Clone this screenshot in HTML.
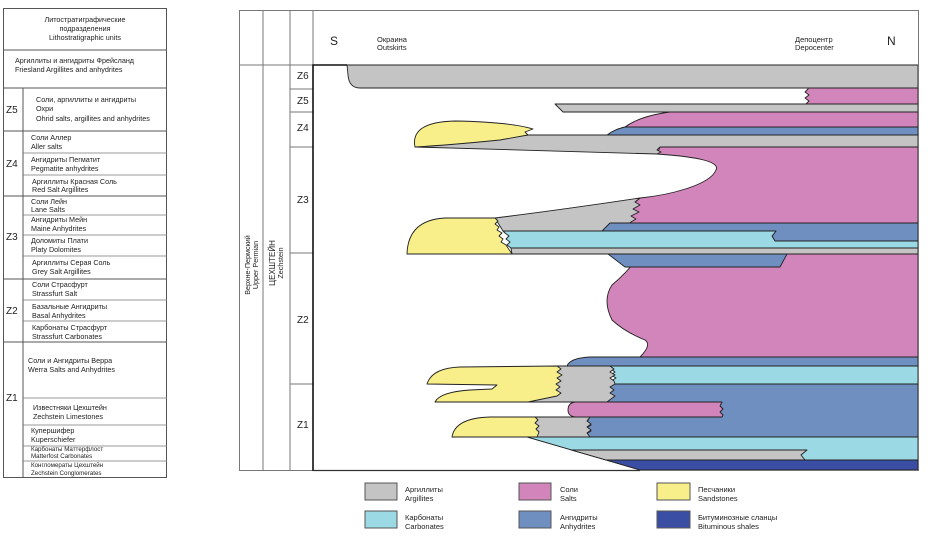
<!DOCTYPE html>
<html><head><meta charset="utf-8"><style>
html,body{margin:0;padding:0;background:#fff;width:934px;height:540px;overflow:hidden}
svg text{font-family:"Liberation Sans","DejaVu Sans",sans-serif;fill:#222}
</style></head><body>
<svg width="934" height="540" viewBox="0 0 934 540" xmlns="http://www.w3.org/2000/svg">
<!-- LEFT TABLE -->
<g stroke="#555" stroke-width="1" fill="none">
<rect x="3.5" y="8.5" width="163" height="469"/>
<line x1="3" y1="50" x2="167" y2="50"/>
<line x1="3" y1="88" x2="167" y2="88"/>
<line x1="3" y1="131" x2="167" y2="131"/>
<line x1="3" y1="196" x2="167" y2="196"/>
<line x1="3" y1="279" x2="167" y2="279"/>
<line x1="3" y1="342" x2="167" y2="342"/>
<line x1="23" y1="88" x2="23" y2="477"/>
<g stroke="#777" stroke-width="0.8">
<line x1="23" y1="153" x2="167" y2="153"/><line x1="23" y1="175" x2="167" y2="175"/>
<line x1="23" y1="215" x2="167" y2="215"/><line x1="23" y1="235" x2="167" y2="235"/><line x1="23" y1="256" x2="167" y2="256"/>
<line x1="23" y1="300" x2="167" y2="300"/><line x1="23" y1="321" x2="167" y2="321"/>
<line x1="23" y1="398" x2="167" y2="398"/><line x1="23" y1="425" x2="167" y2="425"/><line x1="23" y1="446" x2="167" y2="446"/><line x1="23" y1="461" x2="167" y2="461"/>
</g></g>
<g font-size="7.2">
<text x="85" y="22" text-anchor="middle">Литостратиграфические</text>
<text x="85" y="31" text-anchor="middle">подразделения</text>
<text x="85" y="40" text-anchor="middle">Lithostratigraphic units</text>
<text x="15" y="63">Аргиллиты и ангидриты Фрейсланд</text>
<text x="15" y="72">Friesland Argillites and anhydrites</text>
<text x="36" y="102">Соли, аргиллиты и ангидриты</text>
<text x="36" y="111">Охри</text>
<text x="36" y="121">Ohrid salts, argillites and anhydrites</text>
<text x="31" y="140">Соли Аллер</text><text x="31" y="149">Aller salts</text>
<text x="31" y="162">Ангидриты Пегматит</text><text x="31" y="171">Pegmatite anhydrites</text>
<text x="32" y="184">Аргиллиты Красная Соль</text><text x="32" y="192">Red Salt Argillites</text>
<text x="31" y="204">Соли Лейн</text><text x="31" y="212">Lane Salts</text>
<text x="31" y="222">Ангидриты Мейн</text><text x="31" y="231">Maine Anhydrites</text>
<text x="31" y="243">Доломиты Плати</text><text x="31" y="252">Platy Dolomites</text>
<text x="32" y="265">Аргиллиты Серая Соль</text><text x="32" y="274">Grey Salt Argillites</text>
<text x="32" y="287">Соли Страсфурт</text><text x="32" y="296">Strassfurt Salt</text>
<text x="32" y="309">Базальные Ангидриты</text><text x="32" y="318">Basal Anhydrites</text>
<text x="32" y="330">Карбонаты Страсфурт</text><text x="32" y="339">Strassfurt Carbonates</text>
<text x="28" y="363">Соли и Ангидриты Верра</text><text x="28" y="372">Werra Salts and Anhydrites</text>
<text x="33" y="410">Известняки Цехштейн</text><text x="33" y="419">Zechstein Limestones</text>
<text x="31" y="433">Купершифер</text><text x="31" y="442">Kuperschiefer</text>
<text x="31" y="451" font-size="6.2">Карбонаты Маттерфлост</text><text x="31" y="458" font-size="6.2">Matterfost Carbonates</text>
<text x="31" y="467" font-size="6.2">Конгломераты Цехштейн</text><text x="31" y="475" font-size="6.2">Zechstein Conglomerates</text>
</g>
<g font-size="10">
<text x="6" y="113">Z5</text><text x="6" y="167">Z4</text><text x="6" y="240">Z3</text><text x="6" y="314">Z2</text><text x="6" y="401">Z1</text>
</g>

<!-- MAIN DIAGRAM FILLS -->
<g stroke="#222" stroke-width="0.9" stroke-linejoin="round">
<path d="M347,65 L918,65 L918,88 L360,88 Q349,88 348,75 Z" fill="#c4c4c4"/>
<path d="M808,88 L918,88 L918,104 L806,104 l3,-3 -4,-3 4,-3 -4,-3 3,-3 Z" fill="#d285bb"/>
<line x1="360" y1="88" x2="808" y2="88"/>
<line x1="555" y1="104" x2="806" y2="104"/>
<path d="M555,104 L918,104 L918,112 L563,112 Z" fill="#c4c4c4"/>
<path d="M670,112 L918,112 L918,127 L625,127 Q640,116 670,112 Z" fill="#d285bb"/>
<path d="M625,127 L918,127 L918,135 L607,135 Q615,129 625,127 Z" fill="#6e8fbf"/>
<path d="M657,154 L660,147 L918,147 L918,223 L610,223 L640,198 C670,195 710,185 716,170 C720,162 700,157 657,154 Z" fill="#d285bb"/>
<path d="M528,135 L918,135 L918,147 L660,147 L657,150 L661,152 L657,154 Q520,150 415,147 Z" fill="#c4c4c4"/>
<path d="M415,147 Q410,122 455,121 Q510,122 533,129 L525,132 L528,135 L500,140 Q450,145 415,147 Z" fill="#f8ef8a"/>
<line x1="528" y1="135" x2="607" y2="135"/>
<path d="M640,198 l-5,4 5,3 -7,4 6,3 -8,4 5,3 -5,3 -4,3 -2,6 L503,231 L495,218 Q560,210 640,198 Z" fill="#c4c4c4"/>
<path d="M610,223 L918,223 L918,241 L775,241 L772,236 L776,231 L602,231 Z" fill="#6e8fbf"/>
<path d="M503,231 L776,231 L772,236 L775,241 L918,241 L918,248 L511,248 l-4,-3 3,-3 -4,-3 3,-3 -4,-3 Z" fill="#9bd9e4"/>
<path d="M511,248 L918,248 L918,254 L512,254 Z" fill="#c4c4c4"/>
<path d="M407,254 Q408,220 445,218 L495,218 l3,3 -3,3 4,3 -2,3 5,3 -3,3 4,3 -2,3 5,3 L512,254 Z" fill="#f8ef8a"/>
<path d="M640,254 L918,254 L918,357 L640,357 Q652,345 645,340 Q625,332 612,320 Q602,300 612,285 Q630,270 640,254 Z" fill="#d285bb"/>
<path d="M608,254 L787,254 L780,267 L625,267 Z" fill="#6e8fbf"/>
<path d="M567,366 Q570,358 590,357 L918,357 L918,366 Z" fill="#6e8fbf"/>
<path d="M615,384 L918,384 L918,437 L590,437 l-4,-3 5,-3 -5,-3 5,-3 -4,-3 L598,402 l-4,-3 5,-3 -4,-3 4,-3 -4,-3 5,-3 Z" fill="#6e8fbf"/>
<path d="M610,366 L918,366 L918,384 L615,384 l-4,-3 5,-3 -5,-3 4,-3 -4,-3 Z" fill="#9bd9e4"/>
<path d="M557,366 L610,366 l4,3 -4,3 5,3 -5,3 4,3 L615,384 l-5,3 4,3 -4,3 5,3 -4,3 -4,3 L528,402 Z" fill="#c4c4c4"/>
<path d="M427,384 Q432,368 460,367 L557,366 l4,3 -4,3 5,3 -5,3 4,3 -5,3 4,3 -4,3 5,3 -4,3 L528,402 L435,402 Q440,392 470,390 L492,389 L497,385 Z" fill="#f8ef8a"/>
<path d="M575,402 L722,402 l-2,4 3,3 -3,3 3,3 L722,417 L575,417 Q568,416 568,410 Q568,403 575,402 Z" fill="#d285bb"/>
<path d="M535,417 L590,417 l-3,4 4,3 -4,3 4,3 -4,3 3,4 L527,437 Z" fill="#c4c4c4"/>
<path d="M452,437 Q455,418 490,417 L535,417 l3,3 -3,3 4,3 -3,3 3,3 -2,5 L527,437 Z" fill="#f8ef8a"/>
<path d="M527,437 L918,437 L918,460 L606,460 Z" fill="#9bd9e4"/>
<path d="M571,450 L807,450 L801,455 L805,460 L606,460 Z" fill="#c4c4c4"/>
<path d="M606,460 L918,460 L918,470 L640,470 Z" fill="#3a4ea3"/>
<line x1="527" y1="437" x2="640" y2="470"/>
</g>

<!-- FRAME -->
<g stroke="#777" stroke-width="1" fill="none">
<rect x="239.5" y="10.5" width="679" height="460"/>
<line x1="263" y1="10" x2="263" y2="471"/>
<line x1="290" y1="10" x2="290" y2="471"/>
<line x1="239" y1="65" x2="313" y2="65"/>
<line x1="290" y1="89" x2="313" y2="89"/>
<line x1="290" y1="112" x2="313" y2="112"/>
<line x1="290" y1="147" x2="313" y2="147"/>
<line x1="290" y1="253" x2="313" y2="253"/>
<line x1="290" y1="384" x2="313" y2="384"/>
<line x1="313" y1="10" x2="313" y2="65"/>
</g>
<path d="M313,471 L313,65 L347,65" stroke="#111" stroke-width="1.6" fill="none"/>
<line x1="313" y1="470.5" x2="640" y2="470.5" stroke="#333" stroke-width="1.2"/>

<g font-size="12"><text x="330" y="45">S</text><text x="887" y="45">N</text></g>
<g font-size="7.5">
<text x="377" y="42">Окраина</text><text x="377" y="50">Outskirts</text>
<text x="795" y="42">Депоцентр</text><text x="795" y="50">Depocenter</text>
</g>
<g font-size="10">
<text x="297" y="79">Z6</text><text x="297" y="104">Z5</text><text x="297" y="131">Z4</text>
<text x="297" y="203">Z3</text><text x="297" y="323">Z2</text><text x="297" y="428">Z1</text>
</g>
<g font-size="7.2" text-anchor="middle">
<text transform="translate(250,265) rotate(-90)">Верхне-Пермский</text>
<text transform="translate(258,265) rotate(-90)">Upper Permian</text>
<text transform="translate(275,263) rotate(-90)" font-size="8">ЦЕХШТЕЙН</text>
<text transform="translate(283,263) rotate(-90)">Zechstein</text>
</g>

<!-- LEGEND -->
<g stroke="#555" stroke-width="1">
<rect x="365" y="483" width="32" height="17" fill="#c4c4c4"/>
<rect x="365" y="511" width="32" height="17" fill="#9bd9e4"/>
<rect x="519" y="483" width="32" height="17" fill="#d285bb"/>
<rect x="519" y="511" width="32" height="17" fill="#6e8fbf"/>
<rect x="657" y="483" width="33" height="17" fill="#f8ef8a"/>
<rect x="657" y="511" width="33" height="17" fill="#3a4ea3"/>
</g>
<g font-size="7.5">
<text x="405" y="492">Аргиллиты</text><text x="405" y="501">Argillites</text>
<text x="405" y="520">Карбонаты</text><text x="405" y="529">Carbonates</text>
<text x="560" y="492">Соли</text><text x="560" y="501">Salts</text>
<text x="560" y="520">Ангидриты</text><text x="560" y="529">Anhydrites</text>
<text x="698" y="492">Песчаники</text><text x="698" y="501">Sandstones</text>
<text x="698" y="520">Битуминозные сланцы</text><text x="698" y="529">Bituminous shales</text>
</g>
</svg>
</body></html>
